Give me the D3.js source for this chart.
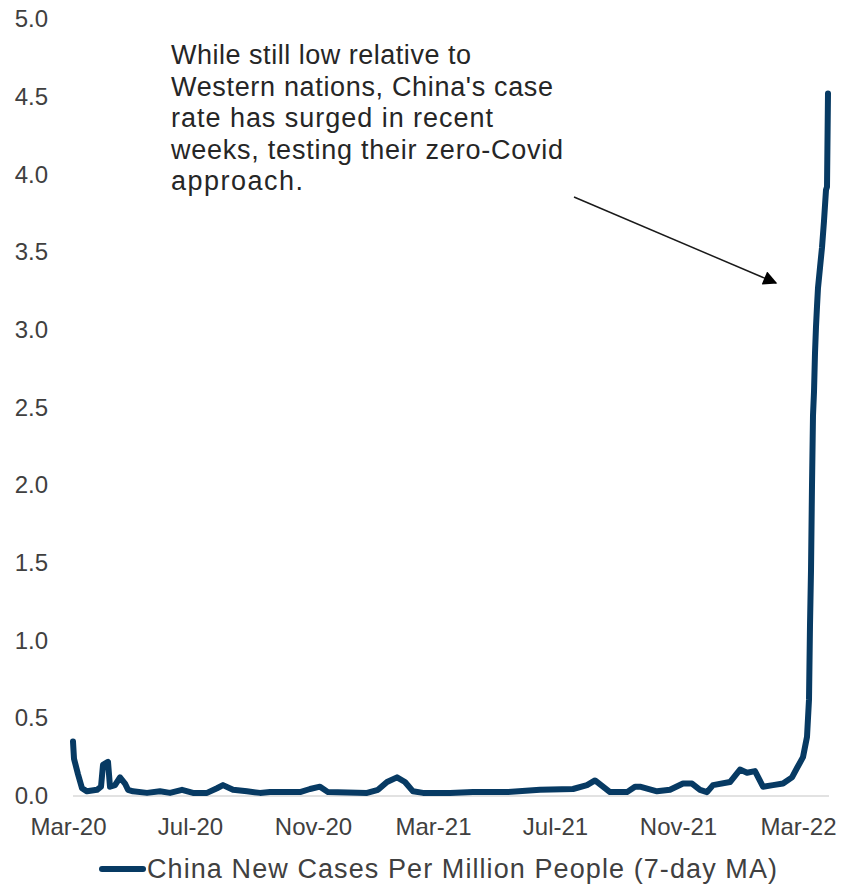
<!DOCTYPE html>
<html>
<head>
<meta charset="utf-8">
<script src="https://cdn.jsdelivr.net/npm/d3@7"></script>
<style>
  html, body { margin: 0; padding: 0; background: #ffffff; }
  svg { display: block; }
  text { font-family: "Liberation Sans", Arial, sans-serif; }
</style>
</head>
<body>
<svg id="chart" width="847" height="887"></svg>
<script>
// China new COVID-19 cases per million people, 7-day moving average
const dates = [
  "2020-03-06","2020-03-07","2020-03-11","2020-03-15","2020-03-20","2020-03-30",
  "2020-04-03","2020-04-05","2020-04-10","2020-04-12","2020-04-17","2020-04-22",
  "2020-04-27","2020-04-30","2020-05-05","2020-05-19","2020-06-01","2020-06-11",
  "2020-06-23","2020-07-04","2020-07-18","2020-07-28","2020-08-03","2020-08-13",
  "2020-08-27","2020-09-09","2020-09-19","2020-10-19","2020-10-29","2020-11-08",
  "2020-11-16","2020-12-25","2021-01-05","2021-01-14","2021-01-24","2021-02-01",
  "2021-02-09","2021-02-19","2021-03-18","2021-04-10","2021-05-14","2021-06-16",
  "2021-07-19","2021-08-02","2021-08-10","2021-08-18","2021-08-25","2021-09-11",
  "2021-09-19","2021-09-24","2021-10-11","2021-10-24","2021-11-06","2021-11-15",
  "2021-11-23","2021-11-30","2021-12-06","2021-12-23","2022-01-02","2022-01-09",
  "2022-01-17","2022-01-25","2022-02-04","2022-02-14","2022-02-23","2022-02-28",
  "2022-03-06","2022-03-10","2022-03-12","2022-03-13","2022-03-14","2022-03-15",
  "2022-03-16","2022-03-17","2022-03-18","2022-03-19","2022-03-20","2022-03-21",
  "2022-03-23","2022-03-25","2022-03-27","2022-03-29","2022-03-30","2022-03-31"
];
const casesPerMillion = [
  0.35, 0.24, 0.14, 0.05, 0.03, 0.04,
  0.06, 0.20, 0.22, 0.06, 0.07, 0.12,
  0.08, 0.04, 0.03, 0.02, 0.03, 0.02,
  0.04, 0.02, 0.02, 0.05, 0.07, 0.04,
  0.03, 0.02, 0.025, 0.025, 0.045, 0.06,
  0.025, 0.02, 0.04, 0.09, 0.12, 0.09,
  0.03, 0.02, 0.02, 0.025, 0.025, 0.04,
  0.045, 0.07, 0.10, 0.06, 0.025, 0.025,
  0.06, 0.06, 0.03, 0.04, 0.08, 0.08,
  0.04, 0.025, 0.07, 0.09, 0.17, 0.15,
  0.16, 0.06, 0.07, 0.08, 0.12, 0.18,
  0.25, 0.38, 0.62, 1.10, 1.45, 2.00,
  2.45, 2.60, 2.85, 3.02, 3.15, 3.27,
  3.40, 3.53, 3.70, 3.90, 3.92, 4.52
];
const yTicks = [0, 0.5, 1, 1.5, 2, 2.5, 3, 3.5, 4, 4.5, 5];
const xTickDates = ["2020-03-01","2020-07-01","2020-11-01","2021-03-01","2021-07-01","2021-11-01","2022-03-01"];
const seriesName = "China New Cases Per Million People (7-day MA)";
const noteLines = [
  "While still low relative to",
  "Western nations, China's case",
  "rate has surged in recent",
  "weeks, testing their zero-Covid",
  "approach."
];
// set widths of the annotation lines
const noteWidths = [300, 382, 322, 392, 132];

const parse = d3.utcParse("%Y-%m-%d");
const data = dates.map((d, i) => ({ date: parse(d), value: casesPerMillion[i] }));

const svg = d3.select("#chart");
const lineColor = "#073a63";
const textColor = "#404040";

const x = d3.scaleUtc()
  .domain([parse("2020-03-01"), parse("2022-03-01")])
  .range([68, 798]);
const y = d3.scaleLinear().domain([0, 5]).range([796, 19]);

// zero baseline
svg.append("line")
  .attr("x1", x(data[0].date)).attr("x2", 829)
  .attr("y1", y(0)).attr("y2", y(0))
  .attr("stroke", "#d9d9d9").attr("stroke-width", 1.5);

// y axis labels
const yAxis = d3.axisLeft(y).tickValues(yTicks).tickFormat(d3.format(".1f")).tickSize(0).tickPadding(0);
svg.append("g")
  .attr("transform", "translate(48,0)")
  .call(yAxis)
  .call(g => g.select(".domain").remove())
  .selectAll("text")
  .attr("font-size", 24)
  .attr("fill", textColor)
  .attr("font-family", "Liberation Sans, Arial, sans-serif");

// x axis labels
const xAxis = d3.axisBottom(x).tickValues(xTickDates.map(parse))
  .tickFormat(d3.utcFormat("%b-%y")).tickSize(0).tickPadding(0);
svg.append("g")
  .attr("transform", `translate(0,${y(0) + 22})`)
  .call(xAxis)
  .call(g => g.select(".domain").remove())
  .selectAll("text")
  .attr("font-size", 24)
  .attr("fill", textColor)
  .attr("font-family", "Liberation Sans, Arial, sans-serif");

// series line
const line = d3.line().x(d => x(d.date)).y(d => y(d.value)).curve(d3.curveLinear);
svg.append("path")
  .datum(data)
  .attr("d", line)
  .attr("fill", "none")
  .attr("stroke", lineColor)
  .attr("stroke-width", 6)
  .attr("stroke-linejoin", "round")
  .attr("stroke-linecap", "round");

// legend
const legend = svg.append("g").attr("transform", "translate(102,869)");
legend.append("line")
  .attr("x1", 0).attr("x2", 41).attr("y1", 0).attr("y2", 0)
  .attr("stroke", lineColor).attr("stroke-width", 6).attr("stroke-linecap", "round");
legend.append("text")
  .attr("x", 45).attr("y", 9)
  .attr("font-size", 27)
  .attr("fill", textColor)
  .attr("textLength", 630).attr("lengthAdjust", "spacing")
  .text(seriesName);

// annotation
const note = svg.append("text")
  .attr("font-size", 27)
  .attr("fill", "#262626");
note.selectAll("tspan")
  .data(noteLines)
  .join("tspan")
  .attr("x", 171)
  .attr("y", (d, i) => 64 + i * 31.6)
  .attr("textLength", (d, i) => noteWidths[i])
  .attr("lengthAdjust", "spacing")
  .text(d => d);

svg.append("defs").append("marker")
  .attr("id", "arrowhead")
  .attr("viewBox", "0 0 10 10")
  .attr("refX", 9).attr("refY", 5)
  .attr("markerWidth", 16).attr("markerHeight", 14)
  .attr("markerUnits", "userSpaceOnUse")
  .attr("orient", "auto")
  .append("path")
  .attr("d", "M0,0 L10,5 L0,10 z")
  .attr("fill", "#000");

svg.append("line")
  .attr("x1", 574).attr("y1", 197)
  .attr("x2", 776).attr("y2", 283)
  .attr("stroke", "#1a1a1a").attr("stroke-width", 1.5)
  .attr("marker-end", "url(#arrowhead)");
</script>
</body>
</html>
